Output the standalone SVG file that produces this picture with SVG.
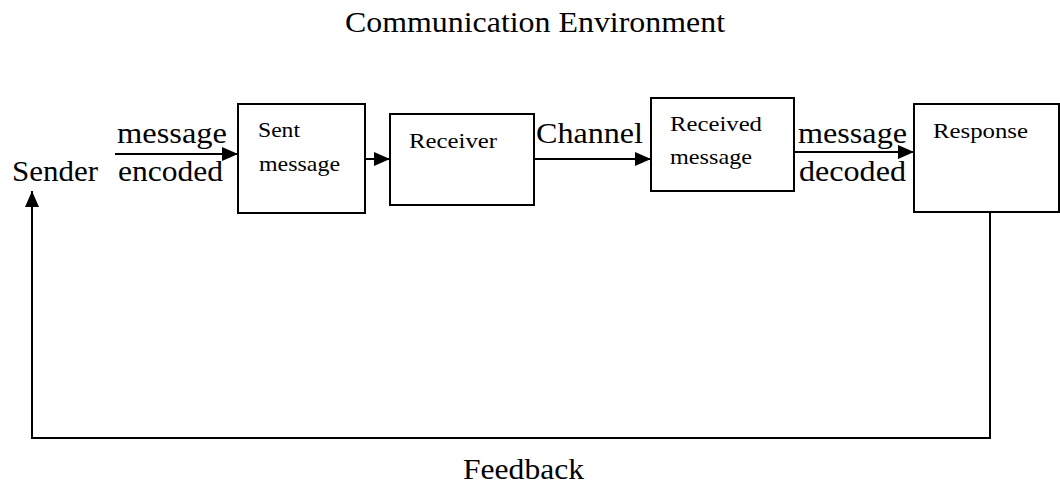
<svg xmlns="http://www.w3.org/2000/svg" width="1060" height="484" viewBox="0 0 1060 484">
<style>
.box{fill:#fff;stroke:#000;stroke-width:2}
.con{fill:none;stroke:#000;stroke-width:2}
.big{font-family:"Liberation Serif","Times New Roman",serif;font-size:29px;fill:#000}
.small{font-family:"Liberation Serif","Times New Roman",serif;font-size:22px;fill:#000}
</style>
<defs>
<marker id="arr" markerUnits="userSpaceOnUse" markerWidth="16" markerHeight="14" refX="16" refY="7" orient="auto">
<path d="M0,0 L16,7 L0,14 Z" fill="#000"/>
</marker>
</defs>
<rect width="1060" height="484" fill="#fff"/>
<text class="big" x="345" y="32" textLength="380" lengthAdjust="spacingAndGlyphs">Communication Environment</text>
<g id="connectors">
<line class="con" x1="115" y1="154" x2="238" y2="154" marker-end="url(#arr)"/>
<line class="con" x1="365" y1="159" x2="390" y2="159" marker-end="url(#arr)"/>
<line class="con" x1="534" y1="159" x2="651" y2="159" marker-end="url(#arr)"/>
<line class="con" x1="794" y1="152" x2="914" y2="152" marker-end="url(#arr)"/>
<path class="con" d="M990,213 V438 H32 V191" marker-end="url(#arr)"/>
<text class="big" x="117" y="143" textLength="110" lengthAdjust="spacingAndGlyphs">message</text>
<text class="big" x="118" y="181" textLength="105" lengthAdjust="spacingAndGlyphs">encoded</text>
<text class="big" x="536" y="143" textLength="107" lengthAdjust="spacingAndGlyphs">Channel</text>
<text class="big" x="798" y="143" textLength="109" lengthAdjust="spacingAndGlyphs">message</text>
<text class="big" x="799" y="181" textLength="107" lengthAdjust="spacingAndGlyphs">decoded</text>
<text class="big" x="463" y="479" textLength="121" lengthAdjust="spacingAndGlyphs">Feedback</text>
</g>
<g id="sender">
<text class="big" x="12" y="181" textLength="86" lengthAdjust="spacingAndGlyphs">Sender</text>
</g>
<g id="sent-message">
<rect class="box" x="238" y="104" width="127" height="109"/>
<text class="small" x="258" y="137" textLength="42" lengthAdjust="spacingAndGlyphs">Sent</text>
<text class="small" x="259" y="171" textLength="81" lengthAdjust="spacingAndGlyphs">message</text>
</g>
<g id="receiver">
<rect class="box" x="390" y="114" width="144" height="91"/>
<text class="small" x="409" y="148" textLength="88" lengthAdjust="spacingAndGlyphs">Receiver</text>
</g>
<g id="received-message">
<rect class="box" x="651" y="98" width="143" height="93"/>
<text class="small" x="670" y="131" textLength="92" lengthAdjust="spacingAndGlyphs">Received</text>
<text class="small" x="670" y="164" textLength="82" lengthAdjust="spacingAndGlyphs">message</text>
</g>
<g id="response">
<rect class="box" x="914" y="104" width="145" height="108"/>
<text class="small" x="933" y="138" textLength="95" lengthAdjust="spacingAndGlyphs">Response</text>
</g>
</svg>
